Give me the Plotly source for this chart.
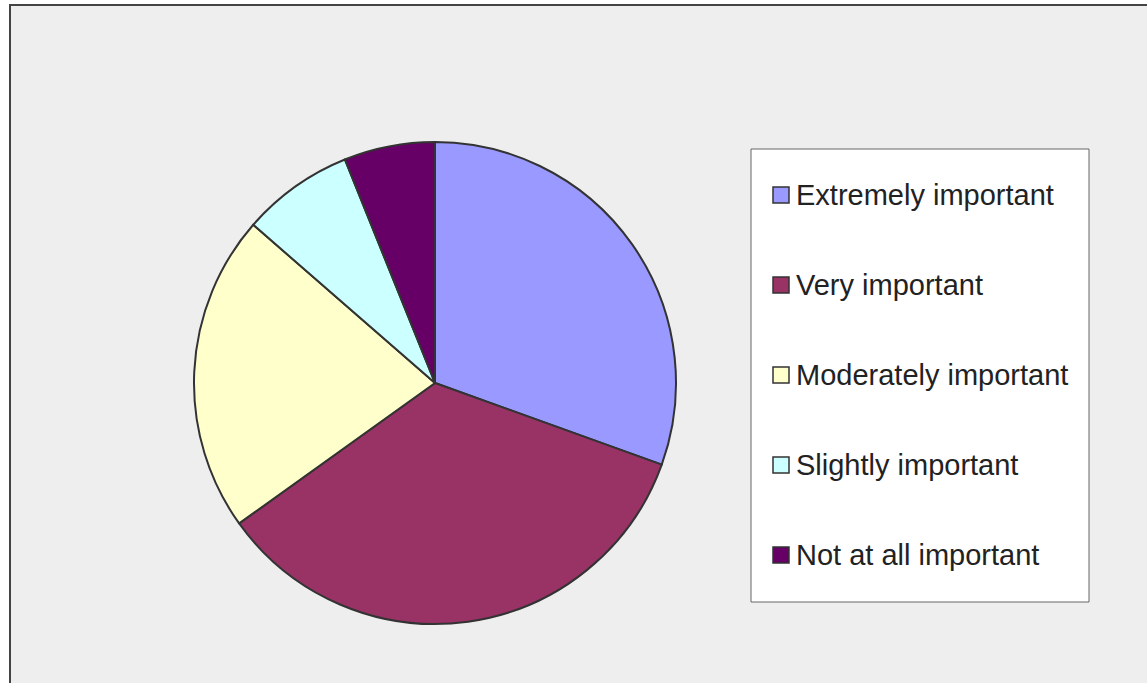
import plotly.graph_objects as go

labels = ["Extremely important", "Very important", "Moderately important",
          "Slightly important", "Not at all important"]
values = [30.5, 34.6, 21.3, 7.5, 6.1]
colors = ["#9999FF", "#993366", "#FFFFCC", "#CCFFFF", "#660066"]

W, H = 1147, 683

def px(x):
    return x / W

def py(y):
    return 1 - y / H

fig = go.Figure()

fig.add_trace(go.Pie(
    labels=labels,
    values=values,
    sort=False,
    direction="clockwise",
    rotation=0,
    marker=dict(colors=colors, line=dict(color="#333333", width=2)),
    textinfo="none",
    hoverinfo="label+percent",
    showlegend=False,
    domain=dict(x=[px(435 - 241), px(435 + 241)], y=[py(383 + 241), py(383 - 241)]),
))

# chart area background and border
shapes = [dict(type="rect", xref="paper", yref="paper", layer="below",
               x0=px(10), x1=1.02, y0=-0.02, y1=py(5),
               fillcolor="#EEEEEE", line=dict(color="#444444", width=2))]

# legend box
shapes.append(dict(type="rect", xref="paper", yref="paper", layer="above",
                   x0=px(751), x1=px(1089), y0=py(602), y1=py(149),
                   fillcolor="white", line=dict(color="#666666", width=1)))

annotations = []
for i, (lab, col) in enumerate(zip(labels, colors)):
    yc = 195 + 90 * i
    shapes.append(dict(type="rect", xref="paper", yref="paper", layer="above",
                       x0=px(773), x1=px(789), y0=py(yc + 8), y1=py(yc - 8),
                       fillcolor=col, line=dict(color="#333333", width=1.5)))
    annotations.append(dict(xref="paper", yref="paper", x=px(794), y=py(yc),
                            xanchor="left", yanchor="middle", showarrow=False,
                            text=lab, font=dict(size=29, color="#222222",
                                                family="Liberation Sans, Arial")))

fig.update_layout(
    width=W, height=H,
    margin=dict(l=0, r=0, t=0, b=0),
    paper_bgcolor="white",
    plot_bgcolor="white",
    shapes=shapes,
    annotations=annotations,
)

fig.write_html("out.html", config={"displayModeBar": False},
               post_script="document.body.style.margin = '0px';")
